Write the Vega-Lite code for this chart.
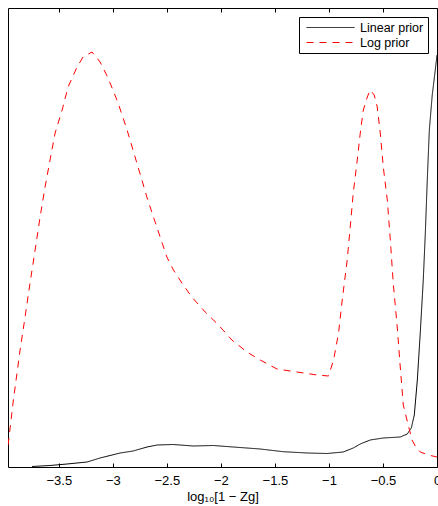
{
  "$schema": "https://vega.github.io/schema/vega-lite/v6.json",
  "width": 429,
  "height": 459,
  "autosize": {"type": "none"},
  "padding": {"left": 8, "top": 8, "right": 1, "bottom": 39},
  "background": "white",
  "config": {
    "view": {"stroke": "black", "strokeWidth": 1},
    "font": "Liberation Sans",
    "legend": {
      "title": null,
      "orient": "none",
      "legendX": 291,
      "legendY": 9,
      "strokeColor": "black",
      "fillColor": "white",
      "padding": 4,
      "symbolType": "M-0.5,0H7.5",
      "symbolSize": 144,
      "symbolStrokeWidth": 1,
      "labelFont": "Liberation Sans",
      "labelFontSize": 12.5,
      "labelColor": "black",
      "labelOffset": 44,
      "labelExpr": "datum.label + '\u2003'",
      "rowPadding": 2,
      "cornerRadius": 0
    }
  },
  "data": {
    "values": [
      {"series": "Linear prior", "x": -3.747, "y": 0.5},
      {"series": "Linear prior", "x": -3.581, "y": 1.5},
      {"series": "Linear prior", "x": -3.423, "y": 3},
      {"series": "Linear prior", "x": -3.238, "y": 5},
      {"series": "Linear prior", "x": -3.118, "y": 9},
      {"series": "Linear prior", "x": -3.025, "y": 11.5},
      {"series": "Linear prior", "x": -2.932, "y": 14},
      {"series": "Linear prior", "x": -2.812, "y": 16},
      {"series": "Linear prior", "x": -2.683, "y": 20},
      {"series": "Linear prior", "x": -2.59, "y": 22},
      {"series": "Linear prior", "x": -2.442, "y": 22.5},
      {"series": "Linear prior", "x": -2.256, "y": 21},
      {"series": "Linear prior", "x": -2.071, "y": 21.5},
      {"series": "Linear prior", "x": -1.886, "y": 20},
      {"series": "Linear prior", "x": -1.636, "y": 18},
      {"series": "Linear prior", "x": -1.423, "y": 15.3},
      {"series": "Linear prior", "x": -1.201, "y": 14},
      {"series": "Linear prior", "x": -1.016, "y": 13.5},
      {"series": "Linear prior", "x": -0.868, "y": 15},
      {"series": "Linear prior", "x": -0.775, "y": 19},
      {"series": "Linear prior", "x": -0.71, "y": 23},
      {"series": "Linear prior", "x": -0.618, "y": 27},
      {"series": "Linear prior", "x": -0.497, "y": 29},
      {"series": "Linear prior", "x": -0.34, "y": 30},
      {"series": "Linear prior", "x": -0.275, "y": 33},
      {"series": "Linear prior", "x": -0.238, "y": 39},
      {"series": "Linear prior", "x": -0.21, "y": 52},
      {"series": "Linear prior", "x": -0.182, "y": 87},
      {"series": "Linear prior", "x": -0.155, "y": 134},
      {"series": "Linear prior", "x": -0.127, "y": 187},
      {"series": "Linear prior", "x": -0.108, "y": 234},
      {"series": "Linear prior", "x": -0.09, "y": 287},
      {"series": "Linear prior", "x": -0.071, "y": 337},
      {"series": "Linear prior", "x": -0.044, "y": 372},
      {"series": "Linear prior", "x": -0.016, "y": 397},
      {"series": "Linear prior", "x": 0, "y": 412},
      {"series": "Log prior", "x": -3.969, "y": 22},
      {"series": "Log prior", "x": -3.92, "y": 67},
      {"series": "Log prior", "x": -3.858, "y": 117},
      {"series": "Log prior", "x": -3.812, "y": 150},
      {"series": "Log prior", "x": -3.766, "y": 184},
      {"series": "Log prior", "x": -3.719, "y": 217},
      {"series": "Log prior", "x": -3.673, "y": 250},
      {"series": "Log prior", "x": -3.627, "y": 280},
      {"series": "Log prior", "x": -3.581, "y": 307},
      {"series": "Log prior", "x": -3.534, "y": 334},
      {"series": "Log prior", "x": -3.469, "y": 357},
      {"series": "Log prior", "x": -3.414, "y": 380},
      {"series": "Log prior", "x": -3.331, "y": 400},
      {"series": "Log prior", "x": -3.275, "y": 410},
      {"series": "Log prior", "x": -3.192, "y": 415},
      {"series": "Log prior", "x": -3.118, "y": 405},
      {"series": "Log prior", "x": -3.044, "y": 389},
      {"series": "Log prior", "x": -2.951, "y": 364},
      {"series": "Log prior", "x": -2.868, "y": 337},
      {"series": "Log prior", "x": -2.794, "y": 310},
      {"series": "Log prior", "x": -2.731, "y": 287},
      {"series": "Log prior", "x": -2.685, "y": 270},
      {"series": "Log prior", "x": -2.624, "y": 250},
      {"series": "Log prior", "x": -2.562, "y": 230},
      {"series": "Log prior", "x": -2.5, "y": 210},
      {"series": "Log prior", "x": -2.439, "y": 197},
      {"series": "Log prior", "x": -2.361, "y": 184},
      {"series": "Log prior", "x": -2.269, "y": 170},
      {"series": "Log prior", "x": -2.145, "y": 155},
      {"series": "Log prior", "x": -2.022, "y": 142},
      {"series": "Log prior", "x": -1.898, "y": 127},
      {"series": "Log prior", "x": -1.759, "y": 115},
      {"series": "Log prior", "x": -1.636, "y": 107},
      {"series": "Log prior", "x": -1.481, "y": 98},
      {"series": "Log prior", "x": -1.296, "y": 95},
      {"series": "Log prior", "x": -1.111, "y": 92},
      {"series": "Log prior", "x": -1.004, "y": 91},
      {"series": "Log prior", "x": -0.957, "y": 107},
      {"series": "Log prior", "x": -0.911, "y": 134},
      {"series": "Log prior", "x": -0.877, "y": 167},
      {"series": "Log prior", "x": -0.831, "y": 207},
      {"series": "Log prior", "x": -0.803, "y": 240},
      {"series": "Log prior", "x": -0.775, "y": 274},
      {"series": "Log prior", "x": -0.738, "y": 307},
      {"series": "Log prior", "x": -0.71, "y": 334},
      {"series": "Log prior", "x": -0.682, "y": 357},
      {"series": "Log prior", "x": -0.645, "y": 370},
      {"series": "Log prior", "x": -0.618, "y": 377},
      {"series": "Log prior", "x": -0.581, "y": 372},
      {"series": "Log prior", "x": -0.553, "y": 360},
      {"series": "Log prior", "x": -0.525, "y": 334},
      {"series": "Log prior", "x": -0.497, "y": 300},
      {"series": "Log prior", "x": -0.46, "y": 267},
      {"series": "Log prior", "x": -0.432, "y": 227},
      {"series": "Log prior", "x": -0.405, "y": 184},
      {"series": "Log prior", "x": -0.368, "y": 140},
      {"series": "Log prior", "x": -0.34, "y": 100},
      {"series": "Log prior", "x": -0.312, "y": 62},
      {"series": "Log prior", "x": -0.278, "y": 47},
      {"series": "Log prior", "x": -0.231, "y": 27},
      {"series": "Log prior", "x": -0.201, "y": 21},
      {"series": "Log prior", "x": -0.155, "y": 15},
      {"series": "Log prior", "x": -0.081, "y": 12},
      {"series": "Log prior", "x": 0, "y": 10}
    ]
  },
  "layer": [
    {
      "mark": {"type": "line", "strokeWidth": 1, "clip": true},
      "encoding": {
        "x": {
          "field": "x",
          "type": "quantitative",
          "scale": {"domain": [-3.97, 0], "nice": false, "zero": false},
          "axis": {
            "values": [-3.5, -3, -2.5, -2, -1.5, -1, -0.5, 0],
            "format": "~g",
            "title": "log₁₀[1 − Zg]",
            "titleFont": "Liberation Sans",
            "titleFontSize": 13,
            "titleFontWeight": "normal",
            "titleColor": "black",
            "titlePadding": 3,
            "labelFont": "Liberation Sans",
            "labelFontSize": 13,
            "labelColor": "black",
            "labelPadding": 11,
            "labelFlush": false,
            "tickSize": -4,
            "tickColor": "black",
            "domain": false,
            "grid": false
          }
        },
        "y": {
          "field": "y",
          "type": "quantitative",
          "scale": {"domain": [0, 459], "nice": false},
          "axis": null
        },
        "color": {
          "field": "series",
          "type": "nominal",
          "scale": {"domain": ["Linear prior", "Log prior"], "range": ["black", "#ff0000"]}
        },
        "strokeDash": {
          "field": "series",
          "type": "nominal",
          "scale": {"domain": ["Linear prior", "Log prior"], "range": [[1, 0], [7, 6]]}
        }
      }
    },
    {
      "mark": {"type": "rule", "color": "black"},
      "encoding": {
        "x": {
          "field": "x",
          "type": "quantitative",
          "axis": {
            "orient": "top",
            "values": [-3.5, -3, -2.5, -2, -1.5, -1, -0.5, 0],
            "labels": false,
            "tickSize": -4,
            "tickColor": "black",
            "domain": false,
            "grid": false,
            "title": null
          }
        }
      },
      "data": {"values": []}
    }
  ],
  "resolve": {"axis": {"x": "independent"}}
}
